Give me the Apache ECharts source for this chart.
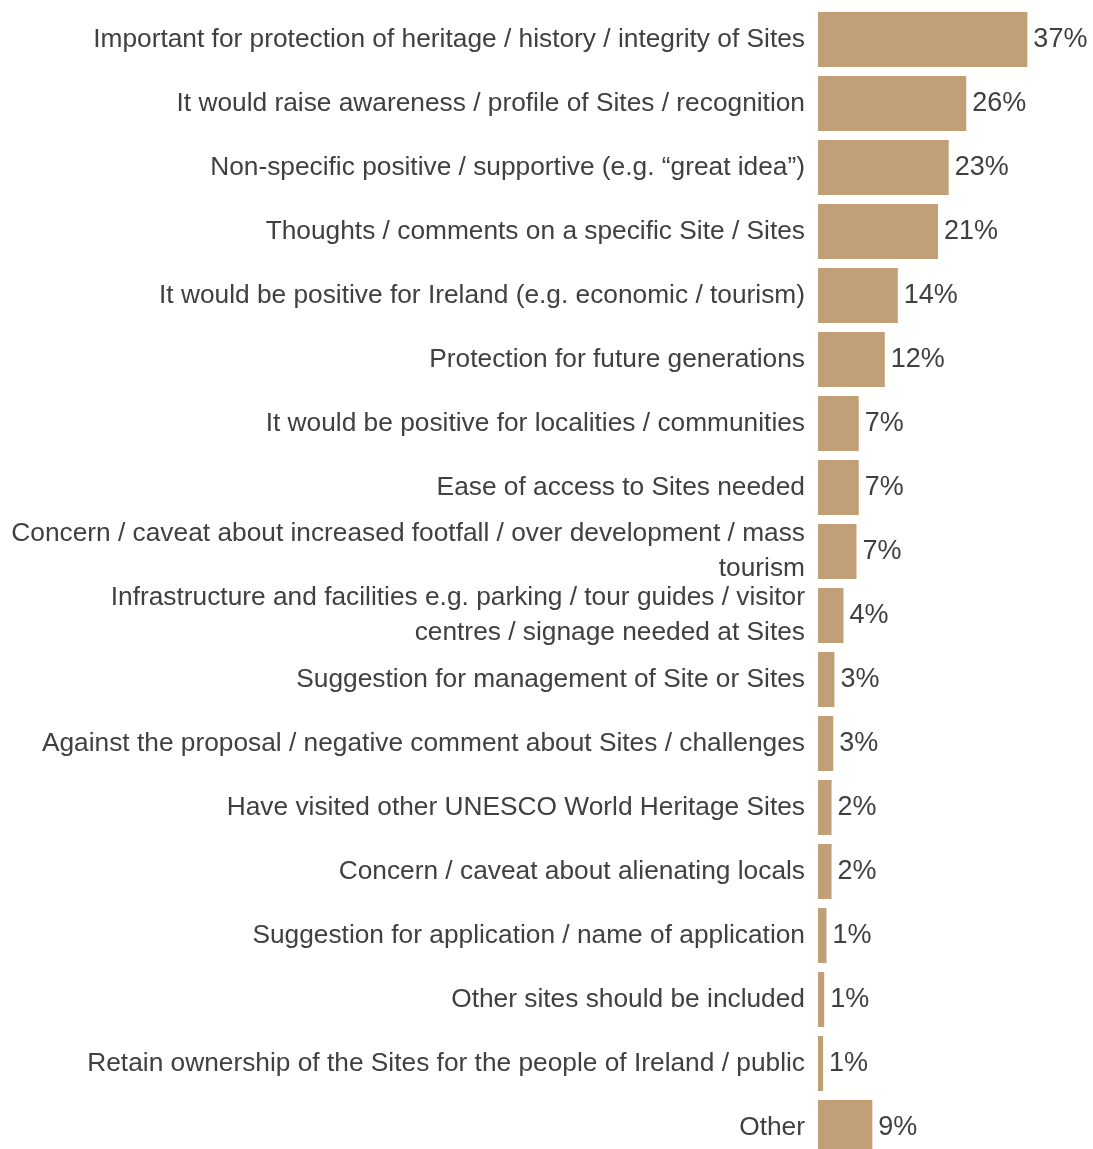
<!DOCTYPE html>
<html>
<head>
<meta charset="utf-8">
<script src="https://cdn.jsdelivr.net/npm/echarts@6/dist/echarts.min.js"></script>
<style>
html,body{margin:0;padding:0;background:#fff;overflow:hidden;}
#chart{width:1093px;height:1160px;}
</style>
</head>
<body>
<div id="chart"></div>
<script>
const categories = [
  "Important for protection of heritage / history / integrity of Sites",
  "It would raise awareness / profile of Sites / recognition",
  "Non-specific positive / supportive (e.g. \u201cgreat idea\u201d)",
  "Thoughts / comments on a specific Site / Sites",
  "It would be positive for Ireland (e.g. economic / tourism)",
  "Protection for future generations",
  "It would be positive for localities / communities",
  "Ease of access to Sites needed",
  "Concern / caveat about increased footfall / over development / mass\ntourism",
  "Infrastructure and facilities e.g. parking / tour guides / visitor\ncentres / signage needed at Sites",
  "Suggestion for management of Site or Sites",
  "Against the proposal / negative comment about Sites / challenges",
  "Have visited other UNESCO World Heritage Sites",
  "Concern / caveat about alienating locals",
  "Suggestion for application / name of application",
  "Other sites should be included",
  "Retain ownership of the Sites for the people of Ireland / public",
  "Other"
];
const values = [37.0, 26.2, 23.1, 21.2, 14.1, 11.8, 7.2, 7.2, 6.8, 4.5, 2.9, 2.7, 2.4, 2.4, 1.5, 1.1, 0.9, 9.6];
const valueLabels = ["37%","26%","23%","21%","14%","12%","7%","7%","7%","4%","3%","3%","2%","2%","1%","1%","1%","9%"];

const chart = echarts.init(document.getElementById('chart'), null, {renderer:'canvas'});
const font = 'Arial, "Liberation Sans", sans-serif';
chart.setOption({
  animation: false,
  backgroundColor: '#ffffff',
  grid: { left: 818, top: 7.5, right: 0, height: 1152, containLabel: false },
  xAxis: {
    type: 'value', min: 0, max: 48.6, show: false
  },
  yAxis: {
    type: 'category', inverse: true, data: categories,
    axisLine: { show: false }, axisTick: { show: false },
    axisLabel: {
      color: '#404040', fontSize: 26.3, fontFamily: font, margin: 13,
      align: 'right', lineHeight: 35, padding: [8, 0, 0, 0]
    }
  },
  series: [{
    type: 'bar', data: values, barCategoryGap: '14%',
    itemStyle: { color: '#c19f77' },
    label: {
      show: true, position: 'right', distance: 6,
      color: '#404040', fontSize: 27, fontFamily: font,
      formatter: p => valueLabels[p.dataIndex]
    }
  }]
});
</script>
</body>
</html>
